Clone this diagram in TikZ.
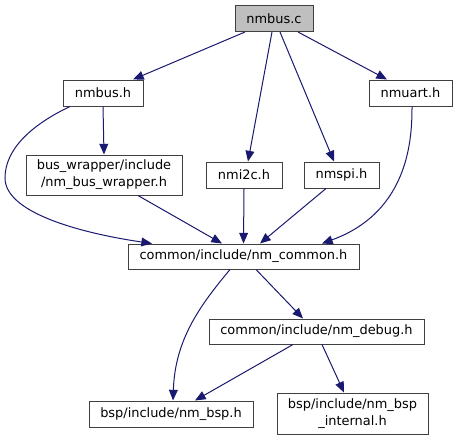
\documentclass[tikz,border=0pt]{standalone}
\usepackage{fontspec}
\setmainfont{DejaVu Sans}
\usetikzlibrary{arrows.meta,calc}
\definecolor{edgec}{HTML}{191970}
\definecolor{boxc}{HTML}{404040}
\definecolor{mainfill}{HTML}{BFBFBF}
\begin{document}
\begin{tikzpicture}[x=0.75pt,y=-0.75pt,
  file/.style={draw=boxc,line width=0.75pt,fill=white,inner sep=0pt,align=center,
    font=\fontsize{9.7}{12.75}\selectfont,minimum height=19.5pt},
  dep/.style={draw=edgec,line width=0.75pt,-{Triangle[length=8pt,width=6.6pt]}}]
\useasboundingbox (0,0) rectangle (456,440);
\node[file,fill=mainfill,minimum width=58.5pt] (c) at (274,18.5) {nmbus.c};
\node[file,minimum width=60pt] (bush) at (103,93) {nmbus.h};
\node[file,minimum width=62.25pt] (uart) at (410.5,93) {nmuart.h};
\node[file,minimum width=117pt,minimum height=30pt] (bw) at (104,175) {bus\_wrapper/include\\/nm\_bus\_wrapper.h};
\node[file,minimum width=57pt] (i2c) at (244,175) {nmi2c.h};
\node[file,minimum width=56.25pt] (spi) at (341.5,175) {nmspi.h};
\node[file,minimum width=173.25pt,minimum height=18.75pt] (common) at (243.5,256.5) {common/include/nm\_common.h};
\node[file,minimum width=161.25pt,minimum height=18.75pt] (debug) at (316.5,331.5) {common/include/nm\_debug.h};
\node[file,minimum width=123pt] (bsp) at (171,414) {bsp/include/nm\_bsp.h};
\node[file,minimum width=113.25pt,minimum height=30.75pt] (int) at (352.5,413.5) {bsp/include/nm\_bsp\\\_internal.h};

\draw[dep] ($(c.south)+(-29,0)$) -- ($(bush.north)+(30,0)$);
\draw[dep] ($(c.south)+(-2,0)$) -- ($(i2c.north)+(4,0)$);
\draw[dep] ($(c.south)+(6,0)$) -- ($(spi.north)+(-7.5,0)$);
\draw[dep] ($(c.south)+(24,0)$) -- ($(uart.north)+(-23.5,0)$);
\draw[dep] (bush.south) -- (bw.north);
\draw[dep] ($(bush.south)+(-33,0)$) .. controls +(-40,19) and +(0,-28) .. (5,178)
  .. controls +(0,37) and +(-62,-9) .. ($(common.north)+(-91.5,0)$);
\draw[dep] ($(bw.south)+(34,0)$) -- ($(common.north)+(-21.5,0)$);
\draw[dep] (i2c.south) -- (common.north);
\draw[dep] ($(spi.south)+(-15.5,0)$) -- ($(common.north)+(16.5,0)$);
\draw[dep] ($(uart.south)+(1.5,0)$) .. controls +(0,30) and +(88,-32) .. ($(common.north)+(78.5,0)$);
\draw[dep] ($(common.south)+(-13.5,0)$) .. controls +(-30,36) and +(2,-61) .. ($(bsp.north)+(2,0)$);
\draw[dep] ($(common.south)+(12.5,0)$) -- ($(debug.north)+(-13.5,0)$);
\draw[dep] ($(debug.south)+(-23.5,0)$) -- ($(bsp.north)+(24,0)$);
\draw[dep] ($(debug.south)+(5.5,0)$) -- ($(int.north)+(-8.5,0)$);
\end{tikzpicture}
\end{document}
